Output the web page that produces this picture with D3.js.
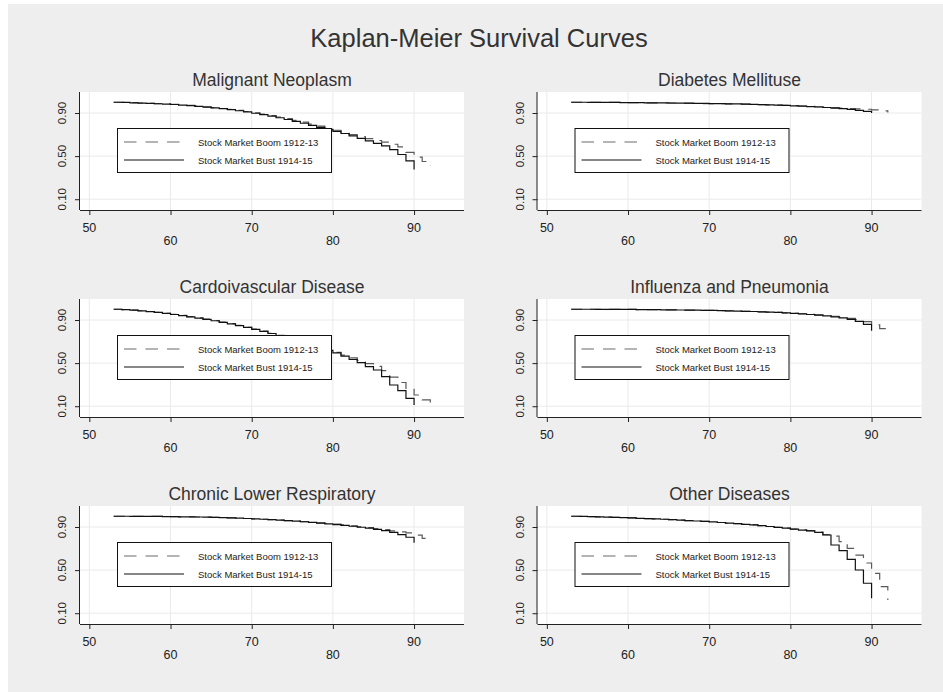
<!DOCTYPE html>
<html>
<head>
<meta charset="utf-8">
<script src="https://d3js.org/d3.v7.min.js"></script>
<style>
body { margin: 0; background: #fff; }
svg text { font-family: "Liberation Sans", Arial, sans-serif; fill: #222; }
</style>
</head>
<body>
<div id="chart"></div>
<script>
// panel titles, in reading order
var panelTitles = ["Malignant Neoplasm", "Diabetes Mellituse", "Cardoivascular Disease",
    "Influenza and Pneumonia", "Chronic Lower Respiratory", "Other Diseases"];
var legendLabels = ["Stock Market Boom 1912-13", "Stock Market Bust 1914-15"];

var xTicks = [50, 60, 70, 80, 90];
var yTicks = [0.10, 0.50, 0.90];

var bustAges = [53,54,55,56,57,58,59,60,61,62,63,64,65,66,67,68,69,70,71,72,
    73,74,75,76,77,78,79,80,81,82,83,84,85,86,87,88,89,90];
var boomAges = [53,54,55,56,57,58,59,60,61,62,63,64,65,66,67,68,69,70,71,72,
    73,74,75,76,77,78,79,80,81,82,83,84,85,86,87,88,89,90,91,92];

// survival estimates, one value per age
var neoplasmBust = [1.000,0.998,0.995,0.992,0.989,0.986,0.983,0.979,0.974,0.968,0.962,0.955,0.948,0.940,0.931,0.921,0.910,0.898,0.885,0.871,
    0.856,0.840,0.823,0.805,0.786,0.766,0.748,0.730,0.710,0.688,0.665,0.642,0.618,0.595,0.560,0.515,0.455,0.375];
var neoplasmBoom = [1.000,0.998,0.996,0.993,0.990,0.987,0.984,0.980,0.975,0.970,0.964,0.957,0.950,0.942,0.933,0.924,0.914,0.902,0.890,0.877,
    0.863,0.848,0.832,0.815,0.797,0.778,0.758,0.740,0.720,0.700,0.680,0.662,0.645,0.630,0.610,0.585,0.535,0.490,0.450,0.410];

var diabetesBust = [1.000,1.000,0.999,0.999,0.998,0.998,0.997,0.997,0.996,0.995,0.995,0.994,0.993,0.992,0.991,0.990,0.989,0.988,0.987,0.985,
    0.984,0.982,0.980,0.978,0.976,0.973,0.970,0.967,0.964,0.960,0.956,0.951,0.946,0.940,0.933,0.925,0.915,0.900];
var diabetesBoom = [1.000,1.000,0.999,0.999,0.998,0.998,0.997,0.997,0.996,0.994,0.994,0.993,0.992,0.991,0.990,0.989,0.988,0.987,0.986,0.985,
    0.983,0.982,0.980,0.978,0.976,0.974,0.971,0.968,0.965,0.962,0.958,0.954,0.950,0.945,0.942,0.938,0.935,0.930,0.920,0.905];

var cardioBust = [1.000,0.996,0.991,0.985,0.978,0.970,0.961,0.951,0.941,0.930,0.918,0.906,0.893,0.879,0.864,0.848,0.831,0.813,0.794,0.775,
    0.755,0.734,0.712,0.689,0.665,0.641,0.618,0.595,0.565,0.535,0.505,0.467,0.436,0.374,0.297,0.244,0.173,0.111];
var cardioBoom = [1.000,0.997,0.992,0.986,0.979,0.971,0.962,0.953,0.943,0.932,0.920,0.908,0.895,0.881,0.866,0.850,0.833,0.815,0.796,0.777,
    0.757,0.736,0.714,0.691,0.668,0.645,0.622,0.600,0.575,0.550,0.525,0.495,0.470,0.430,0.370,0.320,0.266,0.204,0.158,0.096];

var influenzaBust = [1.000,1.000,1.000,0.999,0.999,0.999,0.998,0.998,0.997,0.997,0.996,0.995,0.994,0.993,0.992,0.991,0.990,0.989,0.987,0.985,
    0.983,0.981,0.979,0.976,0.973,0.970,0.966,0.962,0.957,0.951,0.945,0.938,0.930,0.920,0.906,0.888,0.860,0.800];
var influenzaBoom = [1.000,1.000,1.000,0.999,0.999,0.999,0.998,0.998,0.997,0.997,0.996,0.995,0.994,0.993,0.992,0.991,0.990,0.989,0.987,0.985,
    0.983,0.981,0.979,0.976,0.973,0.970,0.966,0.962,0.958,0.953,0.948,0.942,0.935,0.927,0.916,0.903,0.885,0.855,0.820,0.785];

var respBust = [1.000,1.000,0.999,0.999,0.998,0.998,0.997,0.996,0.995,0.994,0.993,0.991,0.989,0.987,0.985,0.982,0.979,0.976,0.972,0.968,
    0.964,0.959,0.954,0.949,0.943,0.937,0.930,0.923,0.915,0.907,0.898,0.889,0.879,0.866,0.850,0.830,0.805,0.755];
var respBoom = [1.000,1.000,0.999,0.999,0.998,0.998,0.997,0.996,0.995,0.994,0.993,0.991,0.989,0.987,0.985,0.982,0.979,0.976,0.972,0.968,
    0.964,0.960,0.955,0.950,0.945,0.939,0.933,0.926,0.919,0.911,0.903,0.894,0.885,0.875,0.865,0.855,0.845,0.825,0.795,0.790];

var otherBust = [1.000,0.998,0.996,0.994,0.992,0.990,0.987,0.984,0.981,0.978,0.975,0.972,0.968,0.964,0.960,0.956,0.952,0.947,0.942,0.937,
    0.931,0.925,0.919,0.912,0.905,0.897,0.889,0.881,0.872,0.865,0.850,0.826,0.733,0.680,0.600,0.501,0.378,0.238];
var otherBoom = [1.000,0.998,0.996,0.994,0.992,0.990,0.987,0.984,0.981,0.978,0.975,0.972,0.968,0.964,0.960,0.956,0.952,0.947,0.942,0.937,
    0.931,0.925,0.919,0.912,0.905,0.897,0.889,0.881,0.874,0.866,0.852,0.830,0.815,0.764,0.702,0.640,0.566,0.470,0.346,0.223];

var bustSeries = [neoplasmBust, diabetesBust, cardioBust, influenzaBust, respBust, otherBust];
var boomSeries = [neoplasmBoom, diabetesBoom, cardioBoom, influenzaBoom, respBoom, otherBoom];

var W = 943, H = 692;
var svg = d3.select("#chart").append("svg")
    .attr("width", W)
    .attr("height", H);

svg.append("rect")
    .attr("x", 8).attr("y", 4)
    .attr("width", W - 8).attr("height", H - 4)
    .attr("fill", "#eeeeee");

svg.append("text")
    .attr("x", 479)
    .attr("y", 47)
    .attr("text-anchor", "middle")
    .style("font-size", "25.5px")
    .style("fill", "#333")
    .text("Kaplan-Meier Survival Curves");

var plotW = 384, plotH = 118;
var colX = [80, 537.5];
var rowY = [92, 299, 506];

function drawPanel(i) {
    var left = colX[i % 2], top = rowY[Math.floor(i / 2)];
    var g = svg.append("g")
        .attr("transform", "translate(" + left + "," + top + ")");

    var x = d3.scaleLinear().domain([48.85, 96.15]).range([0, plotW]);
    var y = d3.scaleLinear().domain([0, 1.095]).range([plotH, 0]);

    g.append("rect")
        .attr("width", plotW)
        .attr("height", plotH)
        .attr("fill", "#fff");

    // grid
    g.selectAll(".vgrid").data(xTicks).enter().append("line")
        .attr("x1", function(d) { return x(d); })
        .attr("x2", function(d) { return x(d); })
        .attr("y1", 0).attr("y2", plotH)
        .attr("stroke", "#eaeaea");
    g.selectAll(".hgrid").data(yTicks).enter().append("line")
        .attr("x1", 0).attr("x2", plotW)
        .attr("y1", function(d) { return y(d); })
        .attr("y2", function(d) { return y(d); })
        .attr("stroke", "#eaeaea");

    // curves
    var line = d3.line()
        .curve(d3.curveStepAfter)
        .x(function(d) { return x(d[0]); })
        .y(function(d) { return y(d[1]); });

    g.append("path")
        .attr("d", line(d3.zip(boomAges, boomSeries[i])))
        .attr("fill", "none")
        .attr("stroke", "#5a5a5a")
        .attr("stroke-width", 1.2)
        .attr("stroke-dasharray", "11,8");
    g.append("path")
        .attr("d", line(d3.zip(bustAges, bustSeries[i])))
        .attr("fill", "none")
        .attr("stroke", "#111")
        .attr("stroke-width", 1.2);

    // axes
    var xAxis = g.append("g")
        .attr("transform", "translate(0," + plotH + ")")
        .call(d3.axisBottom(x).tickValues(xTicks).tickSize(5).tickPadding(0).tickFormat(""));
    xAxis.select(".domain").attr("d", "M0,0.5H" + plotW);
    xAxis.selectAll("text").remove();
    g.selectAll(".xlab").data(xTicks).enter().append("text")
        .attr("x", function(d) { return x(d); })
        .attr("y", function(d, j) { return plotH + (j % 2 === 0 ? 21.5 : 34.5); })
        .attr("text-anchor", "middle")
        .style("font-size", "12.5px")
        .text(function(d) { return d; });

    var yAxis = g.append("g")
        .call(d3.axisLeft(y).tickValues(yTicks).tickSize(5).tickFormat(""));
    yAxis.select(".domain").attr("d", "M-0.5," + plotH + "V0");
    g.selectAll(".ylab").data(yTicks).enter().append("text")
        .attr("transform", function(d) { return "translate(-14," + y(d) + ") rotate(-90)"; })
        .attr("text-anchor", "middle")
        .style("font-size", "11.5px")
        .text(function(d) { return d3.format(".2f")(d); });
    g.selectAll(".domain, .tick line").attr("stroke", "#222");

    // panel title
    g.append("text")
        .attr("x", plotW / 2)
        .attr("y", -6.5)
        .attr("text-anchor", "middle")
        .style("font-size", "17.5px")
        .style("fill", "#333")
        .text(panelTitles[i]);

    // legend
    var lg = g.append("g").attr("transform", "translate(37,36)");
    lg.append("rect")
        .attr("x", 0.5).attr("y", 0.5)
        .attr("width", 214).attr("height", 44)
        .attr("fill", "#fff")
        .attr("stroke", "#111");
    lg.append("line")
        .attr("x1", 7).attr("x2", 67).attr("y1", 14).attr("y2", 14)
        .attr("stroke", "#6a6a6a").attr("stroke-width", 1.2)
        .attr("stroke-dasharray", "12.5,9");
    lg.append("line")
        .attr("x1", 7).attr("x2", 67).attr("y1", 32).attr("y2", 32)
        .attr("stroke", "#111").attr("stroke-width", 1.2);
    lg.selectAll(".ltext").data(legendLabels).enter().append("text")
        .attr("x", 81)
        .attr("y", function(d, j) { return j === 0 ? 18 : 36; })
        .style("font-size", "9.5px")
        .text(function(d) { return d; });
}

for (var i = 0; i < panelTitles.length; i++) drawPanel(i);
</script>
</body>
</html>
